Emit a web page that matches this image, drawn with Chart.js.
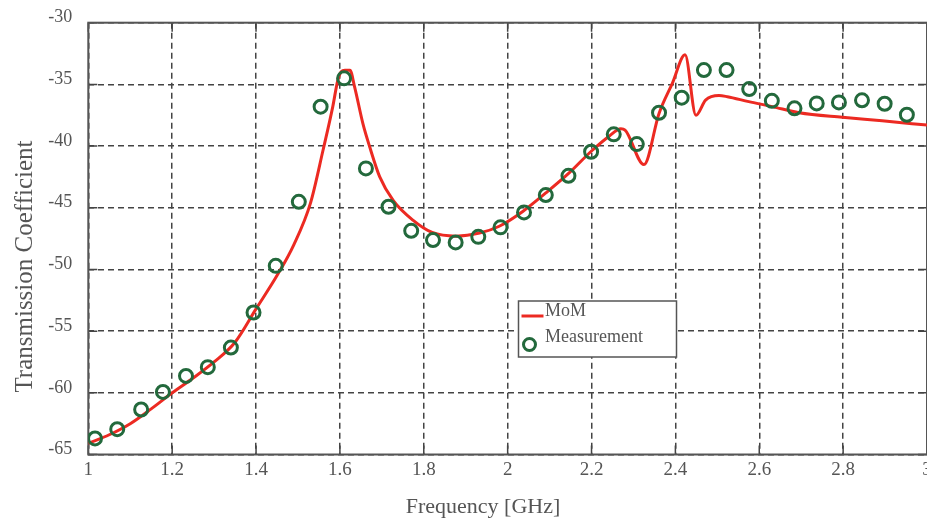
<!DOCTYPE html>
<html>
<head>
<meta charset="utf-8">
<script src="https://cdn.jsdelivr.net/npm/chart.js@4.4.1/dist/chart.umd.min.js"></script>
<style>
  html, body { margin: 0; padding: 0; background: #fff; overflow: hidden; }
</style>
</head>
<body>
<canvas id="grafico" width="927" height="518"></canvas>
<script>
// MoM curve (frequency in GHz, transmission in dB)
const momFreq = [1.00, 1.05, 1.10, 1.15, 1.20, 1.25, 1.30, 1.35, 1.40, 1.45, 1.49, 1.53, 1.56, 1.583, 1.595, 1.603,
    1.612, 1.624, 1.635, 1.655, 1.671, 1.695, 1.727, 1.774, 1.82, 1.877, 1.933, 1.98, 2.036, 2.091, 2.146, 2.2,
    2.242, 2.27, 2.28, 2.325, 2.361, 2.393, 2.423, 2.449, 2.472, 2.504, 2.524, 2.575, 2.631, 2.695, 2.798, 2.893, 3.0];
const momValue = [-64.1, -63.4, -62.5, -61.3, -60.0, -58.8, -57.5, -55.9, -53.2, -50.5, -48.0, -44.6, -40.3, -36.8, -34.65, -33.97,
    -33.85, -33.85, -35.2, -38.2, -40.06, -42.5, -44.4, -46.0, -47.0, -47.3, -47.05, -46.5, -45.3, -43.8, -42.2, -40.4,
    -39.2, -38.6, -38.7, -41.5, -37.35, -34.9, -32.6, -37.5, -36.27, -35.9, -36.0, -36.4, -36.8, -37.3, -37.67, -37.95, -38.3];

// Measured points
const measFreq = [1.016, 1.069, 1.126, 1.178, 1.233, 1.285, 1.340, 1.394, 1.447, 1.502, 1.554, 1.610, 1.662, 1.716,
    1.770, 1.822, 1.876, 1.930, 1.983, 2.039, 2.091, 2.145, 2.199, 2.253, 2.308, 2.361, 2.415, 2.468, 2.522, 2.576,
    2.630, 2.684, 2.737, 2.790, 2.845, 2.899, 2.952];
const measValue = [-63.7, -62.95, -61.35, -59.93, -58.63, -57.92, -56.33, -53.49, -49.71, -44.52, -36.81, -34.51, -41.81, -44.92,
    -46.87, -47.62, -47.81, -47.36, -46.59, -45.38, -43.97, -42.41, -40.46, -39.05, -39.84, -37.30, -36.08, -33.84, -33.84, -35.38,
    -36.33, -36.94, -36.54, -36.46, -36.29, -36.57, -37.46];

const xRange = [1, 3];
const yRange = [-65, -30];
const xStep = 0.2;
const yStep = 5;
const seriesNames = ['MoM', 'Measurement'];
const axisTitles = ['Frequency [GHz]', 'Transmission Coefficient'];

const serif = '"Liberation Serif", "Times New Roman", serif';
const corLinha = '#ec2a22';
const corPonto = '#23693c';
const corTexto = '#555';
const corGrade = '#444';

// moldura, ticks internos, titulos e legenda
const molduraPlugin = {
    id: 'moldura',
    beforeDatasetsDraw(chart) {
        const { ctx, chartArea: a, scales } = chart;
        ctx.save();
        ctx.strokeStyle = corGrade;
        ctx.lineWidth = 1.5;
        ctx.beginPath();
        scales.x.ticks.forEach(t => {
            const px = scales.x.getPixelForValue(t.value);
            ctx.moveTo(px, a.bottom); ctx.lineTo(px, a.bottom - 9);
            ctx.moveTo(px, a.top); ctx.lineTo(px, a.top + 9);
        });
        scales.y.ticks.forEach(t => {
            const py = scales.y.getPixelForValue(t.value);
            ctx.moveTo(a.left, py); ctx.lineTo(a.left + 9, py);
            ctx.moveTo(a.right, py); ctx.lineTo(a.right - 9, py);
        });
        ctx.stroke();
        ctx.strokeStyle = '#555';
        ctx.lineWidth = 2;
        ctx.strokeRect(a.left, a.top, a.right - a.left, a.bottom - a.top);
        ctx.restore();
    },
    afterDraw(chart) {
        const { ctx } = chart;
        ctx.save();
        ctx.fillStyle = corTexto;
        ctx.textBaseline = 'alphabetic';

        ctx.font = '22px ' + serif;
        ctx.textAlign = 'center';
        ctx.fillText(axisTitles[0], 483, 513);

        ctx.save();
        ctx.translate(32, 266.5);
        ctx.rotate(-Math.PI / 2);
        ctx.font = '25px ' + serif;
        ctx.fillText(axisTitles[1], 0, 0);
        ctx.restore();

        // legenda
        ctx.fillStyle = '#fff';
        ctx.fillRect(518.5, 301, 158, 56);
        ctx.strokeStyle = '#555';
        ctx.lineWidth = 1.5;
        ctx.strokeRect(518.5, 301, 158, 56);

        ctx.strokeStyle = corLinha;
        ctx.lineWidth = 3;
        ctx.beginPath();
        ctx.moveTo(521.5, 316); ctx.lineTo(543.5, 316);
        ctx.stroke();

        ctx.strokeStyle = corPonto;
        ctx.beginPath();
        ctx.arc(529.5, 344.5, 6, 0, Math.PI * 2);
        ctx.stroke();

        ctx.fillStyle = corTexto;
        ctx.textAlign = 'left';
        ctx.font = '18px ' + serif;
        ctx.fillText(seriesNames[0], 545, 315.5);
        ctx.fillText(seriesNames[1], 545, 341.5);
        ctx.restore();
    }
};

const dataGrafico = {
    datasets: [
        {
            label: seriesNames[0],
            data: momFreq.map((f, i) => ({ x: f, y: momValue[i] })),
            borderColor: corLinha,
            borderWidth: 3,
            pointRadius: 0,
            fill: false,
            cubicInterpolationMode: 'monotone',
            order: 2,
        },
        {
            label: seriesNames[1],
            data: measFreq.map((f, i) => ({ x: f, y: measValue[i] })),
            showLine: false,
            pointStyle: 'circle',
            pointRadius: 6.5,
            pointBorderWidth: 3,
            borderColor: corPonto,
            backgroundColor: 'rgba(0,0,0,0)',
            order: 1,
        }
    ]
};

const configGrafico = {
    type: 'line',
    data: dataGrafico,
    options: {
        responsive: false,
        animation: false,
        events: [],
        // o eixo direito fica um pouco fora da imagem, como no original
        layout: { autoPadding: false, padding: { top: 22.7, right: -1.7, bottom: 0, left: 0 } },
        plugins: {
            legend: { display: false },
            tooltip: { enabled: false },
        },
        scales: {
            x: {
                type: 'linear',
                min: xRange[0],
                max: xRange[1],
                border: { display: false, dash: [6, 4] },
                grid: { color: corGrade, lineWidth: 1.5, drawTicks: false },
                ticks: {
                    stepSize: xStep,
                    autoSkip: false,
                    maxRotation: 0,
                    padding: 4,
                    color: corTexto,
                    font: { family: serif, size: 19 },
                    callback: (v) => Number(v.toFixed(1)).toString(),
                },
                afterFit: (s) => { s.height = 63.5; s.paddingLeft = 0; s.paddingRight = 0; },
            },
            y: {
                type: 'linear',
                min: yRange[0],
                max: yRange[1],
                border: { display: false, dash: [6, 4] },
                grid: { color: corGrade, lineWidth: 1.5, drawTicks: false },
                ticks: {
                    stepSize: yStep,
                    autoSkip: false,
                    padding: 16,
                    labelOffset: -5,
                    color: corTexto,
                    font: { family: serif, size: 18 },
                    callback: (v) => v.toString(),
                },
                afterFit: (s) => { s.width = 88.3; s.paddingTop = 0; s.paddingBottom = 0; },
            }
        }
    },
    plugins: [molduraPlugin]
};

const ctxGrafico = document.getElementById('grafico').getContext('2d');
const grafico = new Chart(ctxGrafico, configGrafico);
</script>
</body>
</html>
